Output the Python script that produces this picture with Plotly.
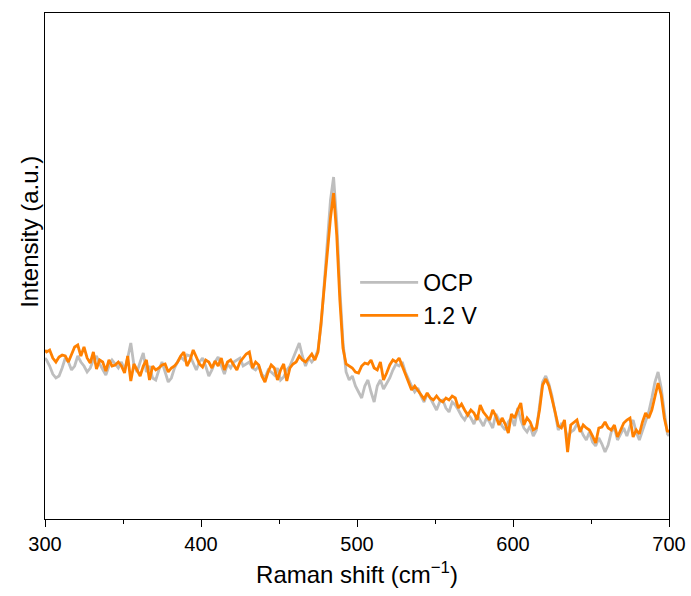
import plotly.graph_objects as go

# Raman shift grid (cm^-1)
raman_shift = [300] + list(range(301, 700, 2)) + [700]

# OCP spectrum (a.u.)
ocp = [162,
       160, 154, 146, 142, 144, 152, 162, 158, 150, 154,
       164, 158, 154, 148, 152, 160, 164, 156, 150, 145,
       154, 160, 156, 152, 158, 150, 162, 177, 155, 148,
       158, 167, 148, 154, 142, 140, 150, 158, 148, 138,
       142,
       152, 158, 163, 160, 165, 164, 156, 150, 158, 162,
       154, 144, 150, 158, 163, 154, 146, 156, 152, 158,
       160, 162, 154, 156, 158, 152, 150, 154, 146, 142,
       150, 148, 145, 152, 140, 143, 150, 154, 162, 168,
       177, 164,
       154, 162, 158, 162, 170, 195, 240, 278, 320, 343,
       298, 232, 178, 148,
       140, 144, 134, 128, 122, 134, 140, 128, 118, 134,
       140, 131, 136, 142, 150, 156, 154, 158, 148, 140,
       134, 128, 132, 124, 118, 126, 122,
       116, 110, 118, 120, 112, 108, 118, 115, 110, 104,
       100, 106, 102, 96, 105, 100, 94, 102, 98, 92,
       106, 100, 94, 90, 98, 102, 94, 112, 100, 92,
       88, 94, 84, 90, 115, 138, 144, 136, 124, 105,
       90, 96, 94, 82, 88, 90, 96, 92, 85, 80,
       88, 78, 74, 82, 76, 68, 75, 88, 92, 80,
       86, 92, 84, 94, 100, 88, 80, 90, 100, 108,
       122, 138, 148, 132, 108, 86,
       84]

# 1.2 V spectrum (a.u.)
v12 = [170,
       168, 170, 162, 158, 163, 165, 164, 158, 166, 173,
       175, 164, 173, 162, 157, 168, 151, 160, 158, 149,
       160, 154, 155, 158, 154, 147, 164, 139, 156, 150,
       144, 154, 160, 140, 154, 150, 152, 155, 156, 148,
       152,
       154, 158, 164, 168, 154, 160, 170, 162, 156, 153,
       160, 158, 152, 159, 154, 162, 150, 158, 160, 155,
       150, 158, 162, 166, 168, 152, 158, 155, 144, 138,
       148, 155, 152, 140, 150, 156, 139, 152, 156, 158,
       164, 160,
       158, 162, 166, 160, 168, 198, 235, 268, 302, 327,
       285, 220, 172, 156,
       154, 152, 148, 147, 154, 157, 156, 160, 152, 150,
       158, 140, 147, 155, 160, 158, 162, 154, 145, 136,
       130, 134, 130, 125, 121, 127, 122,
       120, 124, 120, 118, 122, 120, 124, 122, 112, 116,
       110, 105, 110, 107, 100, 115, 108, 104, 100, 110,
       104, 95, 102, 96, 87, 106, 102, 110, 117, 95,
       102, 98, 90, 92, 110, 135, 141, 134, 122, 108,
       94, 92, 100, 68, 95, 98, 100, 88, 95, 92,
       90, 84, 77, 92, 93, 98, 92, 90, 95, 83,
       90, 97, 100, 102, 83, 90, 86, 98, 107, 102,
       110, 123, 137, 125, 102, 88,
       90]

series_names = ["OCP", "1.2 V"]
series_colors = ["#BEBEBE", "#FF8000"]

fig = go.Figure()
for name, vals, col in zip(series_names, [ocp, v12], series_colors):
    fig.add_trace(go.Scatter(x=raman_shift, y=vals, mode="lines", name=name,
                             line=dict(color=col, width=2.8)))

font_family = "Liberation Sans, Arial, sans-serif"
fig.update_layout(
    width=691, height=596,
    margin=dict(l=45, r=22, t=13, b=77, autoexpand=False),
    paper_bgcolor="white", plot_bgcolor="white",
    font=dict(family=font_family, color="black", size=20),
    showlegend=True,
    legend=dict(x=0.497, y=0.51, xanchor="left", yanchor="top",
                bgcolor="rgba(0,0,0,0)", font=dict(size=23),
                itemwidth=58),
    annotations=[dict(text="Intensity (a.u.)", textangle=-90,
                      xref="paper", yref="paper", x=-0.026, y=0.567,
                      xanchor="center", yanchor="middle", showarrow=False,
                      font=dict(size=24))],
)
fig.update_xaxes(
    range=[300, 700], tickmode="array", tickvals=[300, 400, 500, 600, 700],
    showline=True, linecolor="black", linewidth=1.3, mirror=True,
    ticks="outside", ticklen=7, tickwidth=1.3, tickcolor="black",
    minor=dict(tickvals=[350, 450, 550, 650], ticks="outside", ticklen=4,
               tickwidth=1.3, tickcolor="black"),
    showgrid=False, zeroline=False, automargin=False,
    tickfont=dict(size=20),
    title=dict(text="Raman shift (cm<sup>\u22121</sup>)", font=dict(size=24), standoff=12),
)
fig.update_yaxes(
    range=[1, 507], showticklabels=False, ticks="",
    showline=True, linecolor="black", linewidth=1.3, mirror=True,
    showgrid=False, zeroline=False, automargin=False,
)

fig.write_html("out.html")
